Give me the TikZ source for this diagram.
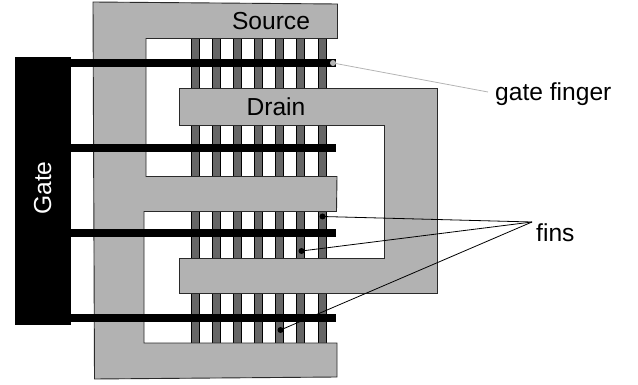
\documentclass[tikz,border=0pt]{standalone}
\usepackage{fontspec}
\setmainfont{Liberation Sans}
\tikzset{
  metal/.style={fill=metalgray,draw=edgegray,line width=0.9pt,line join=miter},
  fin/.style={fill=fingray,draw=black,line width=0.8pt},
  gatefinger/.style={fill=black,draw=none},
  lab/.style={font=\fontsize{24.6}{28}\selectfont,inner sep=0pt,text height=18pt,text depth=5pt},
  dot/.style={circle,fill=black,draw=none,minimum size=6pt,inner sep=0pt},
  leader/.style={black,line width=0.8pt},
}
\definecolor{metalgray}{HTML}{B2B2B2}
\definecolor{fingray}{HTML}{666666}
\definecolor{edgegray}{HTML}{2A2A2A}
\definecolor{leadgray}{HTML}{B4B4B4}
\begin{document}
\begin{tikzpicture}[x=1pt,y=-1pt]
\useasboundingbox (0,0) rectangle (638,385);
% fins
\foreach \x in {195.5,216.5,237.5,258.5,279.5,300.5,322}
  \draw[fin] (\x-4,36) rectangle (\x+4,345);
% source
\draw[metal] (93,2) -- (337.5,4) -- (337.5,38.5) -- (146,38.5) -- (146,176.5) -- (337,176.5) -- (336.5,211.5) -- (144,211.5) -- (144,343) -- (337,343) -- (337,377) -- (94.5,379) -- cycle;
% drain
\draw[metal] (179.5,88.5) -- (437.5,88.5) -- (437.5,293) -- (179.5,293) -- (179.5,258.5) -- (384,258.5) -- (384,125.5) -- (179.5,125.5) -- cycle;
% gate fingers
\foreach \y in {63,148,233,318}
  \fill[gatefinger] (70,\y-4) rectangle (336,\y+4);
% gate
\node[fill=black,minimum width=56pt,minimum height=267pt,inner sep=0pt] (gate) at (43.25,191) {};
\node[lab,text=white,rotate=90] (gatelabel) at (44.5,188) {Gate};
% labels
\node[lab] (source) at (271,23.5) {Source};
\node[lab] (drain) at (276,109) {Drain};
\node[lab,anchor=west] (gf) at (495,94) {gate finger};
\node[lab,anchor=west] (fins) at (536,234.5) {fins};
\coordinate (gfend) at (488,92);
\coordinate (apex) at (532,222);
% leaders
\node[circle,fill=leadgray,minimum size=6pt,inner sep=0pt] (d0) at (333,63) {};
\draw[leadgray,line width=0.8pt] (d0.center) -- (gfend);
\node[dot] (d1) at (322.5,216.5) {};
\node[dot] (d2) at (301.5,251) {};
\node[dot] (d3) at (280.5,330) {};
\draw[leader] (d1.center) -- (apex);
\draw[leader] (d2.center) -- (apex);
\draw[leader] (d3.center) -- (apex);
\end{tikzpicture}
\end{document}
